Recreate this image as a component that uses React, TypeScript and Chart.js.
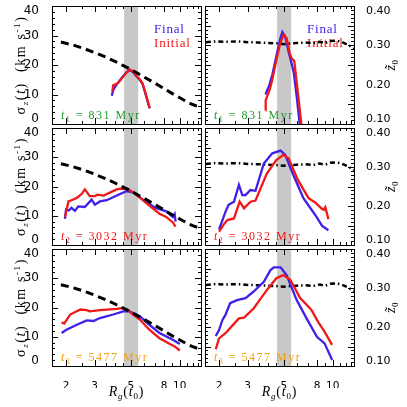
import React, { useEffect, useRef } from 'react';
import { Chart, registerables } from 'chart.js';
Chart.register(...registerables);

type Pt = [number, number];

// ---------- axis / tick values ----------
const X_MIN = 1.64;
const X_MAX = 13.5;
const xTickValues = [2, 3, 5, 8, 10];
const xMinorTicks = [2, 2.5, 3, 3.5, 4, 4.5, 5, 6, 7, 8, 9, 10, 11, 12, 13];
const sigmaTickValues = [0, 10, 20, 30, 40];
const sigmaMinorTicks = [2, 4, 6, 8, 12, 14, 16, 18, 22, 24, 26, 28, 32, 34, 36, 38];
const z0TickValues = [0.1, 0.15, 0.2, 0.25, 0.3, 0.35, 0.4];
const z0MinorTicks = [0.11, 0.12, 0.13, 0.14, 0.16, 0.17, 0.18, 0.19, 0.21, 0.22, 0.23, 0.24, 0.26, 0.27, 0.28, 0.29, 0.31, 0.32, 0.33, 0.34, 0.36, 0.37, 0.38, 0.39];
const bandRange = [4.55, 5.55];
const timeLabels = ['831', '3032', '5477'];
const timeColors = ['#1f9a2c', '#f01818', '#f0a010'];
const legendLabels = ['Final', 'Initial'];

// ---------- reference lines ----------
const sigmaRefLine: Pt[] = [[1.86, 27.8], [2.2, 26.8], [2.6, 25.5], [3, 24.2], [3.5, 22.7], [4, 21.2], [4.5, 19.8], [5, 18.5], [5.5, 17.2], [6, 16], [7, 13.9], [8, 12], [9, 10.3], [10, 8.9], [11, 7.6], [12, 6.6], [13.5, 5.6]];
const z0RefLine: Pt[] = [[1.66, 0.308], [1.9, 0.31], [2.2, 0.309], [2.6, 0.31], [3, 0.308], [3.5, 0.307], [4, 0.306], [4.5, 0.305], [5, 0.303], [5.5, 0.305], [6, 0.306], [6.8, 0.307], [7.6, 0.305], [8.3, 0.309], [9, 0.306], [9.7, 0.311], [10.5, 0.312], [11.3, 0.309], [12, 0.304], [12.8, 0.298], [13.5, 0.292]];

// ---------- t1 ----------
const sigmaFinal1: Pt[] = [[3.82, 9.6], [3.9, 11.5], [4.0, 12.6], [4.2, 14.2], [4.45, 16.0], [4.7, 17.5], [4.92, 18.2], [5.15, 17.6], [5.45, 16.0], [5.7, 14.8], [5.9, 13.6], [6.1, 11.0], [6.3, 8.3], [6.53, 5.3]];
const sigmaInitial1: Pt[] = [[3.85, 11.0], [3.9, 13.1], [4.05, 13.5], [4.2, 14.0], [4.45, 15.8], [4.7, 17.4], [4.92, 18.5], [5.15, 17.9], [5.45, 16.2], [5.7, 15.0], [5.9, 13.8], [6.1, 11.2], [6.3, 8.5], [6.53, 5.4]];
const z0Final1: Pt[] = [[3.86, 0.175], [3.95, 0.186], [4.05, 0.195], [4.25, 0.225], [4.5, 0.272], [4.75, 0.316], [4.9, 0.334], [5.1, 0.322], [5.35, 0.284], [5.55, 0.258], [5.75, 0.232], [6.0, 0.17], [6.3, 0.09]];
const z0Initial1: Pt[] = [[3.86, 0.135], [3.87, 0.16], [3.95, 0.17], [4.1, 0.188], [4.25, 0.213], [4.5, 0.262], [4.75, 0.305], [5.0, 0.328], [5.2, 0.318], [5.45, 0.278], [5.6, 0.266], [5.8, 0.26], [6.1, 0.18], [6.45, 0.09]];

// ---------- t2 ----------
const sigmaFinal2: Pt[] = [[1.97, 8.9], [2.0, 12.1], [2.08, 11.8], [2.16, 12.7], [2.27, 11.7], [2.38, 13.2], [2.61, 13.0], [2.87, 15.5], [3.01, 13.8], [3.23, 14.9], [3.56, 15.3], [4.1, 16.9], [4.7, 18.4], [5.16, 18.0], [5.94, 15.5], [7.1, 12.7], [8.26, 11.5], [9.06, 9.6], [9.3, 10.6], [9.42, 8.0]];
const sigmaInitial2: Pt[] = [[1.97, 9.6], [2.07, 14.9], [2.16, 15.3], [2.33, 16.1], [2.5, 17.5], [2.61, 19.0], [2.8, 16.7], [3.0, 16.7], [3.13, 17.2], [3.4, 16.9], [4.1, 19.0], [4.3, 19.3], [4.8, 19.2], [5.4, 17.2], [6.2, 14.4], [7.5, 10.7], [8.26, 9.6], [9.06, 7.7], [9.42, 6.3]];
const z0Final2: Pt[] = [[2.0, 0.14], [2.1, 0.164], [2.19, 0.185], [2.29, 0.203], [2.47, 0.211], [2.65, 0.254], [2.78, 0.228], [2.91, 0.228], [3.12, 0.241], [3.35, 0.239], [3.77, 0.309], [4.25, 0.335], [4.78, 0.342], [5.1, 0.331], [5.73, 0.279], [6.6, 0.22], [7.8, 0.177], [8.6, 0.149], [9.4, 0.138]];
const z0Initial2: Pt[] = [[2.0, 0.134], [2.14, 0.153], [2.25, 0.164], [2.47, 0.168], [2.68, 0.211], [2.85, 0.194], [3.12, 0.211], [3.35, 0.214], [3.94, 0.284], [4.5, 0.318], [4.97, 0.331], [5.36, 0.322], [6.1, 0.267], [7.1, 0.22], [7.8, 0.209], [8.5, 0.194], [8.8, 0.19], [9.0, 0.197], [9.4, 0.166]];

// ---------- t3 ----------
const sigmaFinal3: Pt[] = [[1.88, 11.3], [2.0, 12.3], [2.33, 14.1], [2.68, 15.6], [2.95, 15.4], [3.23, 16.4], [3.9, 17.6], [4.5, 18.7], [4.92, 18.7], [5.68, 17.0], [6.5, 14.1], [7.5, 11.3], [9.06, 9.0], [10.0, 7.5]];
const sigmaInitial3: Pt[] = [[1.88, 14.9], [1.95, 14.5], [2.12, 17.6], [2.45, 19.3], [2.68, 19.1], [2.8, 18.7], [3.23, 19.1], [4.1, 19.5], [4.4, 19.8], [4.8, 19.1], [5.16, 17.6], [5.68, 15.9], [6.5, 12.4], [7.5, 9.5], [8.7, 7.5], [9.3, 6.7], [10.0, 5.3]];
const z0Final3: Pt[] = [[1.91, 0.177], [2.0, 0.192], [2.1, 0.218], [2.19, 0.231], [2.34, 0.261], [2.58, 0.269], [2.91, 0.274], [3.27, 0.291], [3.77, 0.316], [4.14, 0.346], [4.34, 0.353], [4.78, 0.353], [5.2, 0.333], [6.0, 0.269], [6.9, 0.222], [7.99, 0.175], [8.9, 0.158], [9.8, 0.12], [9.9, 0.115]];
const z0Initial3: Pt[] = [[1.91, 0.143], [2.0, 0.171], [2.19, 0.184], [2.47, 0.208], [2.65, 0.222], [2.85, 0.224], [3.27, 0.248], [3.94, 0.295], [4.5, 0.325], [4.97, 0.333], [5.48, 0.321], [6.3, 0.274], [7.4, 0.244], [8.1, 0.214], [8.9, 0.188], [9.9, 0.154]];

// ---------- layout ----------
const ROW_TOP = [6, 128, 249];
const ROW_BOTTOM = [124, 245, 366];
const COL_LEFT = [52, 205];
const COL_RIGHT = [201, 354];
const Y_AXIS_W = 40;
const X_AXIS_H = 22;
const BLUE = '#4020e8';
const RED = '#f01818';
const SERIF = '"Liberation Serif", "Times New Roman", serif';
const SANS = '"DejaVu Sans", sans-serif';

type Seg = { t: string; size?: number; dy?: number; italic?: boolean };

function drawRich(ctx: CanvasRenderingContext2D, segs: Seg[], x: number, y: number, base: number, color: string, spacing: number, align: 'left' | 'center') {
  ctx.save();
  ctx.fillStyle = color;
  ctx.textBaseline = 'alphabetic';
  ctx.textAlign = 'left';
  (ctx as any).letterSpacing = spacing + 'px';
  const fontOf = (s: Seg) => `${s.italic ? 'italic ' : ''}${s.size || base}px ${SERIF}`;
  const widths = segs.map((s) => { ctx.font = fontOf(s); return ctx.measureText(s.t).width; });
  const total = widths.reduce((a, b) => a + b, 0);
  let cx = align === 'center' ? x - total / 2 : x;
  segs.forEach((s, i) => {
    ctx.font = fontOf(s);
    ctx.fillText(s.t, cx, y + (s.dy || 0));
    cx += widths[i];
  });
  ctx.restore();
}

type PanelCfg = { row: number; col: number; final: Pt[]; initial: Pt[] };

const panels: PanelCfg[] = [
  { row: 0, col: 0, final: sigmaFinal1, initial: sigmaInitial1 },
  { row: 0, col: 1, final: z0Final1, initial: z0Initial1 },
  { row: 1, col: 0, final: sigmaFinal2, initial: sigmaInitial2 },
  { row: 1, col: 1, final: z0Final2, initial: z0Initial2 },
  { row: 2, col: 0, final: sigmaFinal3, initial: sigmaInitial3 },
  { row: 2, col: 1, final: z0Final3, initial: z0Initial3 },
];

const toXY = (arr: Pt[]) => arr.map(([x, y]) => ({ x, y }));

function Panel({ cfg }: { cfg: PanelCfg }) {
  const ref = useRef<HTMLCanvasElement>(null);
  useEffect(() => {
    const { row, col } = cfg;
    const isLeft = col === 0;
    const isBottom = row === 2;
    const left = COL_LEFT[col], right = COL_RIGHT[col], top = ROW_TOP[row], bottom = ROW_BOTTOM[row];
    const yVals = isLeft ? sigmaTickValues : z0TickValues;
    const yMinor = isLeft ? sigmaMinorTicks : z0MinorTicks;

    const plugin = {
      id: 'panelDeco',
      beforeDatasetsDraw(chart: any) {
        const { ctx, chartArea: ca, scales } = chart;
        const x = scales.x;
        ctx.save();
        ctx.fillStyle = '#c8c8c8';
        const x0 = x.getPixelForValue(bandRange[0]);
        const x1 = x.getPixelForValue(bandRange[1]);
        ctx.fillRect(x0, ca.top, x1 - x0, ca.bottom - ca.top);
        ctx.restore();
        drawRich(ctx, [
          { t: 't', italic: true },
          { t: String(row + 1), size: 8, dy: 3 },
          { t: ' = ' + timeLabels[row] + ' Myr' },
        ], ca.left + 9, ca.bottom - 5, 12, timeColors[row], 1.5, 'left');
        if (row === 0) {
          drawRich(ctx, [{ t: legendLabels[0] }], ca.left + 102, ca.top + 27, 13, BLUE, 0.8, 'left');
          drawRich(ctx, [{ t: legendLabels[1] }], ca.left + 102, ca.top + 40.5, 13, RED, 0.8, 'left');
        }
      },
      afterDatasetsDraw(chart: any) {
        const { ctx, chartArea: ca, scales } = chart;
        const x = scales.x, y = scales.y;
        ctx.save();
        ctx.strokeStyle = '#000';
        ctx.lineWidth = 1;
        ctx.beginPath();
        xMinorTicks.forEach((v) => {
          const px = Math.round(x.getPixelForValue(v)) + 0.5;
          const len = xTickValues.includes(v) ? 6 : 3;
          ctx.moveTo(px, ca.bottom); ctx.lineTo(px, ca.bottom - len);
          ctx.moveTo(px, ca.top); ctx.lineTo(px, ca.top + len);
        });
        [...yVals.map((v) => [v, 6]), ...yMinor.map((v) => [v, 3])].forEach(([v, len]) => {
          const py = Math.round(y.getPixelForValue(v)) + 0.5;
          ctx.moveTo(ca.left, py); ctx.lineTo(ca.left + len, py);
          ctx.moveTo(ca.right, py); ctx.lineTo(ca.right - len, py);
        });
        ctx.stroke();
        ctx.strokeRect(ca.left + 0.5, ca.top + 0.5, ca.right - ca.left, ca.bottom - ca.top);
        ctx.restore();
      },
      afterDraw(chart: any) {
        const { ctx, chartArea: ca } = chart;
        const cy = (ca.top + ca.bottom) / 2;
        if (isLeft) {
          ctx.save();
          ctx.translate(25, cy);
          ctx.rotate(-Math.PI / 2);
          drawRich(ctx, [
            { t: 'σ' }, { t: 'z', size: 9, dy: 3, italic: true }, { t: '(' }, { t: 't', italic: true },
            { t: ')  (km s' }, { t: '-1', size: 9, dy: -5 }, { t: ')' },
          ], 0, 0, 14, '#000', 1.6, 'center');
          ctx.restore();
        } else {
          ctx.save();
          ctx.translate(395, cy);
          ctx.rotate(-Math.PI / 2);
          drawRich(ctx, [{ t: 'z\u0303', italic: true }, { t: '0', size: 9, dy: 3 }], 0, 0, 14, '#000', 0.5, 'center');
          ctx.restore();
        }
        if (isBottom) {
          drawRich(ctx, [
            { t: 'R', italic: true }, { t: 'g', size: 9, dy: 3, italic: true }, { t: '(' }, { t: 't', italic: true },
            { t: '0', size: 9, dy: 3 }, { t: ')' },
          ], (ca.left + ca.right) / 2, 396, 14, '#000', 0.8, 'center');
        }
      },
    };

    const datasets: any[] = [];
    const refDs = {
      data: toXY(isLeft ? sigmaRefLine : z0RefLine),
      borderColor: '#000',
      borderWidth: isLeft ? 3 : 2.5,
      borderDash: isLeft ? [8, 5] : [5, 3, 1.5, 3],
      pointRadius: 0,
    };
    const initDs = { data: toXY(cfg.initial), borderColor: RED, borderWidth: 2.3, pointRadius: 0 };
    const finDs = { data: toXY(cfg.final), borderColor: BLUE, borderWidth: 2.3, pointRadius: 0 };
    if (isLeft) datasets.push(refDs, initDs, finDs);
    else datasets.push(initDs, finDs, refDs);

    const chart = new Chart(ref.current as HTMLCanvasElement, {
      type: 'line',
      data: { datasets },
      plugins: [plugin as any],
      options: {
        animation: false,
        responsive: false,
        devicePixelRatio: 1,
        events: [],
        layout: {
          padding: {
            left: isLeft ? left - Y_AXIS_W : left,
            right: isLeft ? 407 - right : 407 - right - Y_AXIS_W,
            top,
            bottom: isBottom ? 407 - bottom - X_AXIS_H : 407 - bottom,
          },
        },
        plugins: { legend: { display: false }, tooltip: { enabled: false } },
        scales: {
          x: {
            type: 'logarithmic',
            min: X_MIN,
            max: X_MAX,
            display: isBottom,
            grid: { display: false },
            border: { display: false },
            afterBuildTicks: (s: any) => { s.ticks = xTickValues.map((v) => ({ value: v })); },
            afterFit: (s: any) => { s.height = isBottom ? X_AXIS_H : 0; s.paddingLeft = 0; s.paddingRight = 0; },
            ticks: {
              autoSkip: false, maxRotation: 0, minRotation: 0, padding: 6, color: '#000',
              font: { family: SANS, size: 10.5 },
              callback: (v: any) => String(v),
            },
          } as any,
          y: {
            type: 'linear',
            position: isLeft ? 'left' : 'right',
            min: yVals[0],
            max: yVals[yVals.length - 1],
            grid: { display: false },
            border: { display: false },
            afterBuildTicks: (s: any) => { s.ticks = yVals.map((v) => ({ value: v })); },
            afterFit: (s: any) => { s.width = Y_AXIS_W; s.paddingTop = 0; s.paddingBottom = 0; },
            ticks: {
              padding: isLeft ? 5 : 4, color: '#000',
              font: { family: SANS, size: isLeft ? 12 : 11, lineHeight: isLeft ? 0.85 : 0.95 },
              callback: (v: any, i: number) => {
                const s = isLeft ? String(Math.round(v)) : Number(v).toFixed(2);
                if (i === 0) return [s, ''];
                if (i === yVals.length - 1) return ['', s];
                return s;
              },
            },
          } as any,
        },
      },
    });
    return () => chart.destroy();
  }, []);
  return (
    <canvas
      ref={ref}
      width={407}
      height={407}
      style={{ position: 'absolute', left: 0, top: 0, width: 407, height: 407 }}
    />
  );
}

export default function App() {
  return (
    <div style={{ position: 'absolute', left: 0, top: 0, width: 407, height: 407, background: '#fff', overflow: 'hidden' }}>
      {panels.map((p, i) => (
        <Panel key={i} cfg={p} />
      ))}
    </div>
  );
}
